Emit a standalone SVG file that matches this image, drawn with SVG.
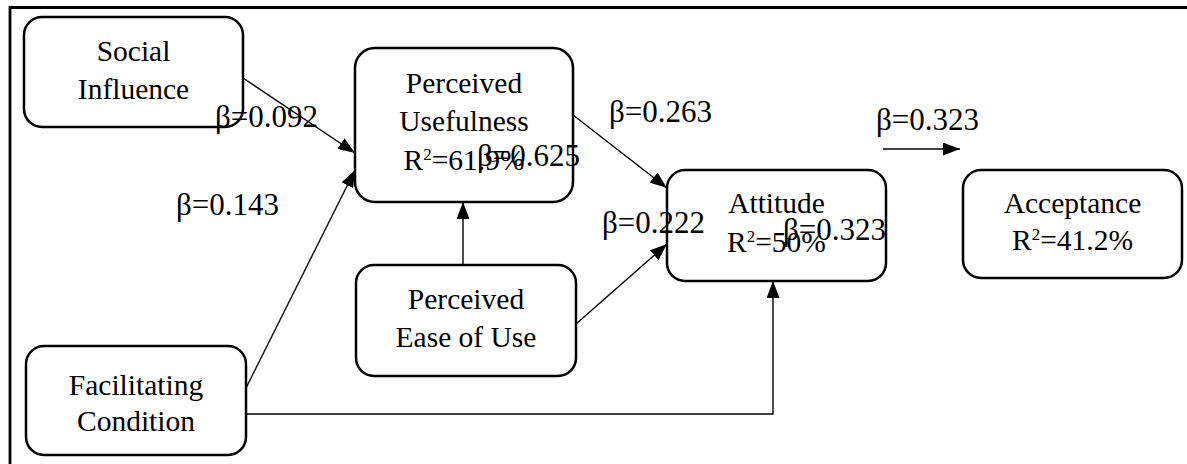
<svg xmlns="http://www.w3.org/2000/svg" width="1187" height="464" viewBox="0 0 1187 464">
  <style>
    .box { fill: #fff; stroke: #000; stroke-width: 2.5; }
    .lbl { font-size: 29.5px; fill: #000; }
    .coef { font-size: 31px; fill: #000; }
    .mid { text-anchor: middle; }
    .edge { fill: none; stroke: #000; stroke-width: 1.4; }
    .sup { font-size: 17px; }
  </style>
  <defs>
    <marker id="arrow" viewBox="0 0 17 13" refX="17" refY="6.5" markerWidth="17" markerHeight="13" markerUnits="userSpaceOnUse" orient="auto">
      <path d="M0,0 L17,6.5 L0,13 Z" fill="#000"/>
    </marker>
  </defs>
  <rect width="1187" height="464" fill="#fff"/>

  <!-- outer frame (top and left edges) -->
  <path d="M10,464 V7.5 H1187" fill="none" stroke="#000" stroke-width="2.8"/>

  <!-- connectors -->
  <g id="connectors">
    <line class="edge" x1="243" y1="78" x2="355" y2="153" marker-end="url(#arrow)"/>
    <line class="edge" x1="246" y1="388" x2="355" y2="170" marker-end="url(#arrow)"/>
    <line class="edge" x1="573" y1="115" x2="667" y2="188" marker-end="url(#arrow)"/>
    <line class="edge" x1="576" y1="324" x2="667" y2="244" marker-end="url(#arrow)"/>
    <line class="edge" x1="463" y1="265" x2="463" y2="202" marker-end="url(#arrow)"/>
    <polyline class="edge" points="246,414 773,414 773,281" marker-end="url(#arrow)"/>
    <line class="edge" x1="883" y1="149" x2="960" y2="149" marker-end="url(#arrow)"/>
  </g>

  <g font-family="'Liberation Serif', 'Times New Roman', 'DejaVu Serif', serif">
    <g id="social-influence">
      <rect class="box" x="24" y="17" width="219" height="110" rx="18"/>
      <text class="lbl mid" x="133.5" y="61">Social</text>
      <text class="lbl mid" x="133.5" y="99">Influence</text>
    </g>

    <g id="perceived-usefulness">
      <rect class="box" x="355" y="48" width="218" height="154" rx="20"/>
      <text class="lbl mid" x="464" y="93">Perceived</text>
      <text class="lbl mid" x="464" y="131">Usefulness</text>
      <text class="lbl mid" x="464" y="170">R<tspan class="sup" dy="-10">2</tspan><tspan dy="10">=61.9%</tspan></text>
    </g>

    <g id="perceived-ease-of-use">
      <rect class="box" x="356" y="265" width="220" height="111" rx="18"/>
      <text class="lbl mid" x="466" y="309">Perceived</text>
      <text class="lbl mid" x="466" y="347">Ease of Use</text>
    </g>

    <g id="facilitating-condition">
      <rect class="box" x="26" y="346" width="220" height="109" rx="18"/>
      <text class="lbl mid" x="136" y="395">Facilitating</text>
      <text class="lbl mid" x="136" y="431">Condition</text>
    </g>

    <g id="attitude">
      <rect class="box" x="667" y="170" width="219" height="111" rx="18"/>
      <text class="lbl mid" x="776.5" y="213">Attitude</text>
      <text class="lbl mid" x="776.5" y="252">R<tspan class="sup" dy="-10">2</tspan><tspan dy="10">=50%</tspan></text>
    </g>

    <g id="acceptance">
      <rect class="box" x="963" y="170" width="219" height="108" rx="18"/>
      <text class="lbl mid" x="1072.5" y="213">Acceptance</text>
      <text class="lbl mid" x="1072.5" y="250">R<tspan class="sup" dy="-10">2</tspan><tspan dy="10">=41.2%</tspan></text>
    </g>

    <!-- path coefficients -->
    <g id="coefficients">
      <text class="coef" x="215" y="127">β=0.092</text>
      <text class="coef" x="176" y="215">β=0.143</text>
      <text class="coef" x="477" y="166">β=0.625</text>
      <text class="coef" x="609" y="122">β=0.263</text>
      <text class="coef" x="602" y="233">β=0.222</text>
      <text class="coef" x="783" y="240">β=0.323</text>
      <text class="coef" x="876" y="130">β=0.323</text>
    </g>
  </g>
</svg>
